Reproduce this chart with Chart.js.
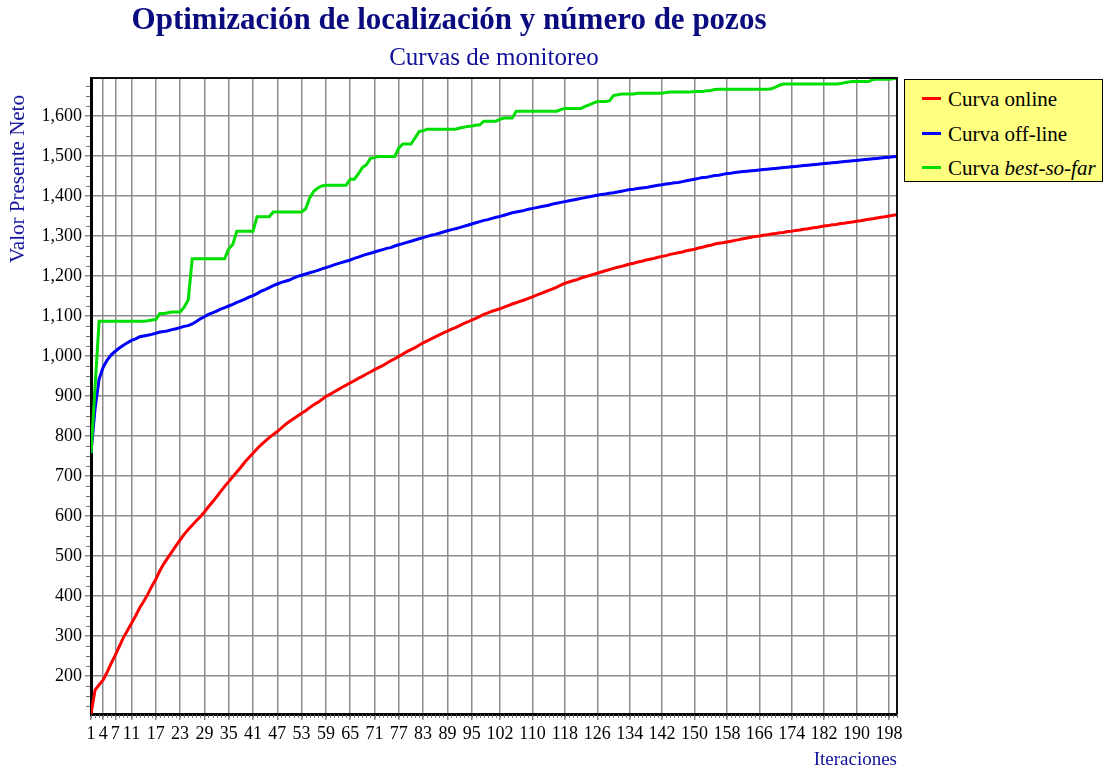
<!DOCTYPE html>
<html>
<head>
<meta charset="utf-8">
<script src="https://cdn.jsdelivr.net/npm/chart.js@4.4.1/dist/chart.umd.min.js"></script>
<style>
  body { margin: 0; background: #fff; }
  #wrap { position: relative; width: 1105px; height: 771px; font-family: "Liberation Serif", "Times New Roman", serif; }
  #title { position: absolute; left: 0; width: 898px; top: 1px; text-align: center; font-size: 31px; font-weight: bold; color: #0b0b80; }
  #subtitle { position: absolute; left: 91px; width: 806px; top: 43px; text-align: center; font-size: 25px; color: #10109a; }
  #ytitle { position: absolute; left: 5px; top: 95px; writing-mode: vertical-rl; transform: rotate(180deg); font-size: 21px; color: #10109a; white-space: nowrap; }
  #legend { position: absolute; left: 904px; top: 79px; width: 199px; height: 103px; background: #ffff80; border: 1.5px solid #000; box-sizing: border-box; padding-top: 7px; }
  #legend div { height: 34.5px; line-height: 24px; font-size: 21px; color: #000; white-space: nowrap; }
  #legend span.mark { display: inline-block; width: 19px; height: 3px; margin: 0 7px 5px 17px; vertical-align: middle; }
</style>
</head>
<body>
<div id="wrap">
  <canvas id="linechart"></canvas>
  <div id="title">Optimización de localización y número de pozos</div>
  <div id="subtitle">Curvas de monitoreo</div>
  <div id="ytitle">Valor Presente Neto</div>
  <div id="legend"></div>
</div>
<script>
// iteration numbers 1..200
const iterations = Array.from({ length: 200 }, (_, i) => i + 1);

// labelled iterations on the x axis
const xTicks = [1, 4, 7, 11, 17, 23, 29, 35, 41, 47, 53, 59, 65, 71, 77, 83, 89, 95,
  102, 110, 118, 126, 134, 142, 150, 158, 166, 174, 182, 190, 198];

// labelled values on the y axis
const yTicks = [200, 300, 400, 500, 600, 700, 800, 900, 1000, 1100, 1200, 1300, 1400, 1500, 1600];

const online = [
  105, 165, 178, 190, 210, 232, 252, 274, 296, 314,
  332, 350, 370, 386, 404, 424, 442, 463, 481, 496,
  511, 526, 540, 554, 566, 577, 588, 598, 610, 623,
  635, 648, 661, 674, 686, 698, 710, 722, 735, 746,
  757, 768, 778, 787, 796, 804, 811, 820, 829, 836,
  843, 850, 857, 863, 871, 878, 884, 891, 899, 904,
  910, 916, 922, 927, 933, 938, 944, 949, 955, 960,
  966, 971, 976, 982, 988, 993, 999, 1005, 1011, 1016,
  1021, 1027, 1033, 1038, 1043, 1048, 1053, 1058, 1062, 1067,
  1071, 1076, 1081, 1085, 1090, 1094, 1099, 1104, 1108, 1112,
  1115, 1118, 1122, 1126, 1130, 1133, 1137, 1140, 1144, 1148,
  1152, 1156, 1160, 1164, 1168, 1172, 1177, 1182, 1185, 1188,
  1191, 1195, 1198, 1201, 1204, 1207, 1210, 1213, 1216, 1219,
  1222, 1224, 1227, 1230, 1232, 1235, 1237, 1240, 1242, 1244,
  1247, 1249, 1251, 1254, 1256, 1258, 1260, 1263, 1265, 1267,
  1270, 1272, 1275, 1277, 1280, 1282, 1283, 1285, 1287, 1289,
  1291, 1293, 1295, 1297, 1299, 1300, 1302, 1303, 1305, 1306,
  1308, 1309, 1311, 1312, 1314, 1315, 1317, 1318, 1320, 1321,
  1323, 1325, 1326, 1328, 1329, 1331, 1332, 1334, 1335, 1337,
  1338, 1340, 1342, 1343, 1345, 1347, 1348, 1350, 1352, 1353
];

const offline = [
  757, 868, 942, 972, 990, 1003, 1012, 1020, 1027, 1033,
  1039, 1043, 1048, 1050, 1052, 1054, 1057, 1060, 1061, 1063,
  1066, 1068, 1071, 1074, 1076, 1080, 1086, 1093, 1098, 1104,
  1108, 1112, 1117, 1121, 1125, 1129, 1134, 1138, 1142, 1147,
  1151, 1156, 1162, 1166, 1171, 1176, 1180, 1184, 1187, 1190,
  1195, 1199, 1202, 1205, 1208, 1211, 1214, 1218, 1221, 1224,
  1228, 1231, 1234, 1237, 1240, 1244, 1247, 1251, 1254, 1257,
  1260, 1263, 1266, 1269, 1271, 1275, 1278, 1281, 1284, 1287,
  1290, 1293, 1296, 1299, 1302, 1304, 1307, 1310, 1313, 1316,
  1318, 1321, 1324, 1327, 1330, 1333, 1336, 1339, 1341, 1344,
  1347, 1349, 1352, 1355, 1358, 1360, 1362, 1364, 1367, 1369,
  1371, 1373, 1375, 1377, 1380, 1382, 1384, 1386, 1388, 1390,
  1392, 1394, 1396, 1398, 1400, 1402, 1404, 1405, 1407, 1408,
  1410, 1412, 1414, 1416, 1417, 1419, 1420, 1421, 1423, 1425,
  1427, 1428, 1430, 1431, 1433, 1434, 1436, 1438, 1440, 1442,
  1444, 1446, 1447, 1449, 1451, 1452, 1454, 1456, 1457, 1459,
  1460, 1461, 1462, 1463, 1464, 1465, 1466, 1467, 1468, 1469,
  1470, 1471, 1472, 1473, 1474, 1475, 1476, 1477, 1478, 1479,
  1480, 1481, 1482, 1483, 1484, 1485, 1486, 1487, 1488, 1489,
  1490, 1491, 1492, 1493, 1494, 1495, 1496, 1497, 1498, 1499
];

const bestSoFar = [
  757, 922, 1087, 1087, 1087, 1087, 1087, 1087, 1087, 1087,
  1087, 1087, 1087, 1087, 1088, 1090, 1091, 1106, 1106, 1108,
  1110, 1110, 1110, 1122, 1140, 1243, 1243, 1243, 1243, 1243,
  1243, 1243, 1243, 1243, 1268, 1279, 1312, 1312, 1312, 1312,
  1312, 1348, 1348, 1348, 1348, 1360, 1360, 1360, 1360, 1360,
  1360, 1360, 1360, 1368, 1395, 1412, 1420, 1425, 1427, 1427,
  1427, 1427, 1427, 1427, 1442, 1442, 1455, 1471, 1478, 1494,
  1496, 1499, 1499, 1499, 1499, 1499, 1520, 1530, 1530, 1530,
  1545, 1561, 1563, 1567, 1567, 1567, 1567, 1567, 1567, 1567,
  1567, 1570, 1572, 1574, 1575, 1577, 1578, 1587, 1587, 1587,
  1587, 1592, 1595, 1595, 1595, 1612, 1612, 1612, 1612, 1612,
  1612, 1612, 1612, 1612, 1612, 1612, 1616, 1619, 1619, 1619,
  1619, 1619, 1624, 1628, 1632, 1636, 1636, 1636, 1638, 1651,
  1653, 1655, 1655, 1655, 1655, 1657, 1657, 1657, 1657, 1657,
  1657, 1657, 1659, 1660, 1660, 1660, 1660, 1660, 1660, 1661,
  1661, 1661, 1663, 1664, 1666, 1667, 1667, 1667, 1667, 1667,
  1667, 1667, 1667, 1667, 1667, 1667, 1667, 1667, 1668, 1672,
  1677, 1680, 1680, 1680, 1680, 1680, 1680, 1680, 1680, 1680,
  1680, 1680, 1680, 1680, 1680, 1681, 1683, 1685, 1686, 1686,
  1686, 1686, 1686, 1691, 1692, 1692, 1692, 1692, 1693, 1695
];

const seriesNames = ["Curva online", "Curva off-line", "Curva best-so-far"];
const legendHtml = ["Curva online", "Curva off-line", "Curva <i>best-so-far</i>"];
const seriesColors = ["#ff0000", "#0000ff", "#00dd00"];

const allValues = online.concat(offline, bestSoFar);
const yMin = Math.min(...allValues);
const yMax = Math.max(...allValues);

const serif = "'Liberation Serif', 'Times New Roman', serif";
const gridGray = "#8c8c8c";

// small ticks between the labelled ones + top/right frame
const axisExtras = {
  id: "axisExtras",
  afterDraw(chart) {
    const { ctx, chartArea: a, scales } = chart;
    ctx.save();
    ctx.strokeStyle = "#777";
    ctx.lineWidth = 1;
    ctx.beginPath();
    for (let v = 1; v <= 200; v++) {
      const px = Math.round(scales.x.getPixelForValue(v)) + 0.5;
      ctx.moveTo(px, a.bottom + 1);
      ctx.lineTo(px, a.bottom + 4);
    }
    for (let v = 125; v < yMax; v += 25) {
      if (v % 100 === 0) continue;
      const py = Math.round(scales.y.getPixelForValue(v)) + 0.5;
      ctx.moveTo(a.left - 5, py);
      ctx.lineTo(a.left - 1, py);
    }
    ctx.stroke();

    ctx.strokeStyle = "#111";
    ctx.lineWidth = 2;
    ctx.beginPath();
    ctx.moveTo(a.left, a.top);
    ctx.lineTo(a.right, a.top);
    ctx.lineTo(a.right, a.bottom);
    ctx.stroke();
    ctx.restore();
  }
};

const lctx = document.getElementById("linechart");

const chart = new Chart(lctx, {
  type: "line",
  data: {
    labels: iterations,
    datasets: [
      { label: seriesNames[0], data: online, order: 3 },
      { label: seriesNames[1], data: offline, order: 2 },
      { label: seriesNames[2], data: bestSoFar, order: 1 },
    ].map((d, i) => ({
      ...d,
      borderColor: seriesColors[i],
      backgroundColor: seriesColors[i],
      borderWidth: 3,
      pointRadius: 0,
      tension: 0,
    })),
  },
  options: {
    responsive: true,
    maintainAspectRatio: false,
    animation: false,
    layout: { padding: { top: 78, right: 208, left: 0, bottom: 0 } },
    plugins: {
      legend: { display: false },
      tooltip: { enabled: false },
    },
    scales: {
      x: {
        type: "linear",
        min: 1,
        max: 200,
        afterBuildTicks: (scale) => {
          scale.ticks = xTicks.map((v) => ({ value: v }));
        },
        afterFit: (scale) => {
          scale.height = 57;
        },
        ticks: {
          autoSkip: false,
          maxRotation: 0,
          minRotation: 0,
          padding: 3,
          color: "#000",
          font: { family: serif, size: 18 },
          callback: (v) => String(v),
        },
        grid: { color: gridGray, lineWidth: 1.5, tickLength: 6, tickColor: gridGray },
        border: { color: "#000", width: 3 },
        title: {
          display: true,
          text: "Iteraciones",
          align: "end",
          color: "#10109a",
          font: { family: serif, size: 19 },
          padding: 0,
        },
      },
      y: {
        min: yMin,
        max: yMax,
        afterBuildTicks: (scale) => {
          scale.ticks = yTicks.map((v) => ({ value: v }));
        },
        afterFit: (scale) => {
          scale.width = 91;
        },
        ticks: {
          autoSkip: false,
          padding: 3,
          color: "#000",
          font: { family: serif, size: 18 },
          callback: (v) => v.toLocaleString("en-US"),
        },
        grid: { color: gridGray, lineWidth: 1.5, tickLength: 6, tickColor: gridGray },
        border: { color: "#000", width: 3 },
      },
    },
  },
  plugins: [axisExtras],
});

// legend box
const legendBox = document.getElementById("legend");
chart.data.datasets.forEach((ds, i) => {
  const row = document.createElement("div");
  row.innerHTML = '<span class="mark" style="background:' + ds.borderColor + '"></span>' + legendHtml[i];
  legendBox.appendChild(row);
});
</script>
</body>
</html>
